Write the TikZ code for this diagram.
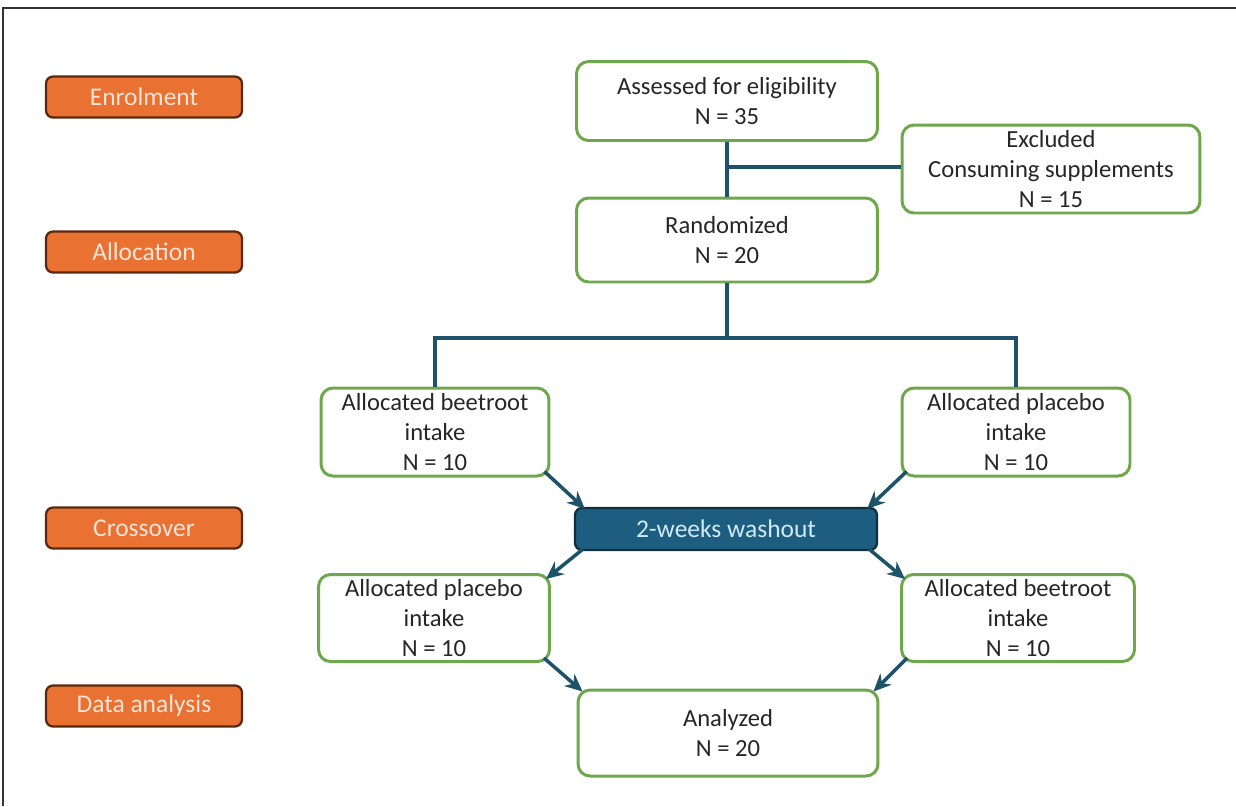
\documentclass[tikz,border=0pt]{standalone}
\usepackage{fontspec}
\setmainfont{Carlito}
\usetikzlibrary{arrows.meta}
\definecolor{gborder}{HTML}{6FA84C}
\definecolor{orfill}{HTML}{E97132}
\definecolor{orborder}{HTML}{5A2A10}
\definecolor{ortext}{HTML}{FBE3D6}
\definecolor{wfill}{HTML}{1D5E80}
\definecolor{wborder}{HTML}{0E2F40}
\definecolor{wtext}{HTML}{CFEAF5}
\definecolor{conn}{HTML}{1E5268}
\definecolor{frame}{HTML}{333333}
\tikzset{
  greenbox/.style={draw=gborder, line width=1.7pt, rounded corners=0.24cm, fill=white,
    align=center, inner sep=0pt, font=\fontsize{14}{17}\selectfont, text=black!85},
  phasebox/.style={draw=orborder, line width=1.3pt, rounded corners=0.14cm, fill=orfill,
    align=center, inner sep=0pt, minimum width=3.92cm, minimum height=0.82cm,
    font=\fontsize{14.5}{15}\selectfont, text=ortext},
  washbox/.style={draw=wborder, line width=1.3pt, rounded corners=0.14cm, fill=wfill,
    align=center, inner sep=0pt, minimum width=6.04cm, minimum height=0.84cm,
    font=\fontsize{14.5}{15}\selectfont, text=wtext},
  link/.style={draw=conn, line width=2pt},
  arr/.style={draw=conn, line width=2pt, -{Stealth[length=10pt,width=9pt]}},
}
\begin{document}
\begin{tikzpicture}[x=0.02cm,y=-0.02cm]
\useasboundingbox (0,0) rectangle (1236,806);
% frame
\draw[frame, line width=1.4pt] (3,806) -- (3,8) -- (1236,8);
% phase labels
\node[phasebox] (enr) at (144,97) {Enrolment};
\node[phasebox] (all) at (144,252) {Allocation};
\node[phasebox] (cro) at (144,528) {Crossover};
\node[phasebox] (dat) at (144,706) {Data analysis};
% flow boxes
\node[greenbox, minimum width=6.02cm, minimum height=1.58cm] (ass) at (727,101) {Assessed for eligibility\\N = 35};
\node[greenbox, minimum width=5.96cm, minimum height=1.76cm] (exc) at (1051,169) {Excluded\\Consuming supplements\\N = 15};
\node[greenbox, minimum width=6.02cm, minimum height=1.68cm] (ran) at (727,240) {Randomized\\N = 20};
\node[greenbox, minimum width=4.56cm, minimum height=1.76cm] (lb) at (435,432) {Allocated beetroot\\intake\\N = 10};
\node[greenbox, minimum width=4.56cm, minimum height=1.76cm] (rp) at (1016,432) {Allocated placebo\\intake\\N = 10};
\node[washbox] (wash) at (726,529) {2-weeks washout};
\node[greenbox, minimum width=4.62cm, minimum height=1.74cm] (lp) at (434,618) {Allocated placebo\\intake\\N = 10};
\node[greenbox, minimum width=4.66cm, minimum height=1.74cm] (rb) at (1018,618) {Allocated beetroot\\intake\\N = 10};
\node[greenbox, minimum width=6.0cm, minimum height=1.72cm] (ana) at (728,733) {Analyzed\\N = 20};
% connectors
\coordinate (j1) at (727,167);
\coordinate (j2) at (727,338);
\draw[link] (ass.south) -- (ran.north);
\draw[link] (j1) -- (exc.west |- j1);
\draw[link] (ran.south) -- (j2);
\draw[link] (lb.north) -- (lb.north |- j2) -- (rp.north |- j2) -- (rp.north);
\draw[arr] ([xshift=-0.12cm,yshift=0.12cm]lb.south east) -- ([xshift=0.22cm,yshift=-0.04cm]wash.north west);
\draw[arr] ([xshift=0.12cm,yshift=0.12cm]rp.south west) -- ([xshift=-0.22cm,yshift=-0.04cm]wash.north east);
\draw[arr] ([xshift=0.18cm,yshift=0.04cm]wash.south west) -- ([xshift=-0.1cm,yshift=-0.12cm]lp.north east);
\draw[arr] ([xshift=-0.18cm,yshift=0.04cm]wash.south east) -- ([xshift=0.1cm,yshift=-0.12cm]rb.north west);
\draw[arr] ([xshift=-0.14cm,yshift=0.1cm]lp.south east) -- ([xshift=0.12cm,yshift=-0.06cm]ana.north west);
\draw[arr] ([xshift=0.14cm,yshift=0.1cm]rb.south west) -- ([xshift=-0.12cm,yshift=-0.06cm]ana.north east);
\end{tikzpicture}
\end{document}
